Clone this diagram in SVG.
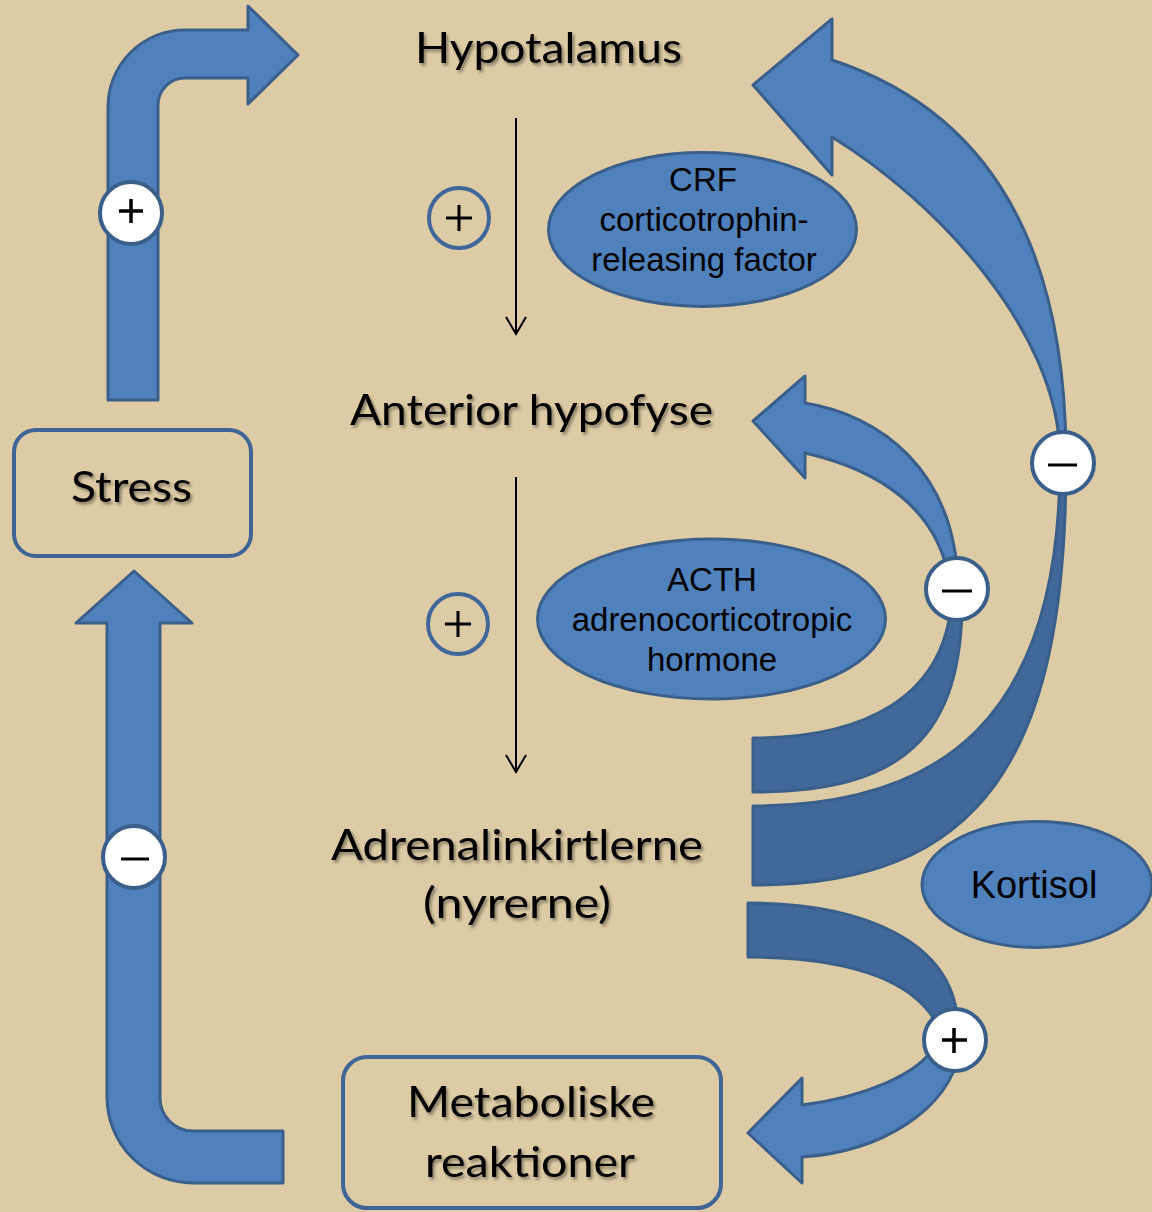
<svg xmlns="http://www.w3.org/2000/svg" width="1152" height="1212" viewBox="0 0 1152 1212">
<defs>
<style>
.bg{fill:#DCCBA4}
.blk{fill:#4F81BD;stroke:#3A5F8B;stroke-width:3;stroke-linejoin:round}
.dark{fill:#41689A;stroke:#3A5F8B;stroke-width:3;stroke-linejoin:round}
.box{fill:none;stroke:#3F6496;stroke-width:4}
.ell{fill:#4F81BD;stroke:#3A5F8B;stroke-width:3}
.sign{fill:#FFFFFF;stroke:#3A5F8B;stroke-width:4}
.osign{fill:none;stroke:#41679A;stroke-width:4}
.sym{stroke:#000;stroke-width:3.5;fill:none}
.thin{stroke:#000;stroke-width:2;fill:none}
.lbl{font-family:Lato,"Open Sans",sans-serif;font-size:43px;fill:#000}
.etx{font-family:"Liberation Sans",Arial,sans-serif;font-size:33px;fill:#000;text-anchor:middle}
</style>
<filter id="sh" x="-10%" y="-30%" width="120%" height="160%">
<feDropShadow dx="2" dy="2.5" stdDeviation="1.6" flood-color="#000" flood-opacity="0.4"/>
</filter>
</defs>
<rect class="bg" x="0" y="0" width="1152" height="1212"/>

<g id="connectors">
<!-- stress -> hypotalamus -->
<path class="blk" d="M108,400 L108,107 A77,77 0 0 1 185,30 L248,30 L248,6 L298,55 L248,104 L248,78 L185,78 A27,27 0 0 0 158,105 L158,400 Z"/>
<!-- metaboliske -> stress -->
<path class="blk" d="M134,571 L192,623 L160,623 L160,1098 A33,33 0 0 0 193,1131 L283,1131 L283,1183 L193,1183 A86,86 0 0 1 107,1097 L107,623 L76,623 Z"/>
<!-- large feedback to hypotalamus -->
<path class="dark" d="M753,806 C940,806 1060,720 1060,462 L1066,462 C1066,760 980,885 753,885 Z"/>
<path class="blk" d="M832,60 C978,108 1065,230 1066,455 L1060,455 C1058,330 935,200 832,137 L832,175 L753,85 L832,19 Z"/>
<!-- medium feedback to anterior hypofyse -->
<path class="dark" d="M753,738 C860,738 950,700 952,590 L962,590 C965,740 900,792 753,792 Z"/>
<path class="blk" d="M805,403 C880,415 955,470 958,585 L950,585 C940,510 880,470 805,453 L805,478 L753,421 L805,376 Z"/>
<!-- kortisol -> metaboliske -->
<path class="dark" d="M748,903 C860,903 958,940 958,1030 L940,1030 C920,985 860,957 748,957 Z"/>
<path class="blk" d="M802,1105 C860,1098 920,1075 935,1045 L960,1050 C950,1110 880,1152 802,1157 L802,1183 L748,1133 L802,1078 Z"/>
<!-- thin arrows -->
<path class="thin" d="M516,118 L516,334 M506,317 L516,334 L526,317"/>
<path class="thin" d="M516,477 L516,772 M506,755 L516,772 L526,755"/>
</g>

<g id="signs">
<g id="sign-stress-plus"><circle class="sign" cx="131" cy="213" r="31"/><path class="sym" d="M119,211 H143 M131,199 V223"/></g>
<g id="sign-metab-minus"><circle class="sign" cx="134" cy="857" r="31"/><path class="sym" d="M121,859 H149" style="stroke-width:3"/></g>
<g id="sign-hypo-minus"><circle class="sign" cx="1063" cy="463" r="31"/><path class="sym" d="M1048,465 H1077" style="stroke-width:3"/></g>
<g id="sign-ant-minus"><circle class="sign" cx="957" cy="589" r="31"/><path class="sym" d="M942,591 H972" style="stroke-width:3"/></g>
<g id="sign-kort-plus"><circle class="sign" cx="955" cy="1040" r="31"/><path class="sym" d="M942,1040 H967 M954,1028 V1053"/></g>
<g id="sign-crf-plus"><circle class="osign" cx="459" cy="218" r="30"/><path class="sym" d="M446,218 H472 M459,205 V231" style="stroke-width:3"/></g>
<g id="sign-acth-plus"><circle class="osign" cx="458" cy="624" r="30"/><path class="sym" d="M445,624 H471 M458,611 V637" style="stroke-width:3"/></g>
</g>

<g id="node-hypotalamus">
<text class="lbl" x="415" y="63" textLength="267" lengthAdjust="spacingAndGlyphs" filter="url(#sh)">Hypotalamus</text>
</g>
<g id="node-anterior">
<text class="lbl" x="350" y="425" textLength="363" lengthAdjust="spacingAndGlyphs" filter="url(#sh)">Anterior hypofyse</text>
</g>
<g id="node-adrenal">
<text class="lbl" x="331" y="860" textLength="372" lengthAdjust="spacingAndGlyphs" filter="url(#sh)">Adrenalinkirtlerne</text>
<text class="lbl" x="423" y="918" textLength="188" lengthAdjust="spacingAndGlyphs" filter="url(#sh)">(nyrerne)</text>
</g>
<g id="node-stress">
<rect class="box" x="14" y="430" width="237" height="126" rx="22"/>
<text class="lbl" x="71" y="502" textLength="121" lengthAdjust="spacingAndGlyphs" filter="url(#sh)">Stress</text>
</g>
<g id="node-metaboliske">
<rect class="box" x="343" y="1057" width="378" height="151" rx="24"/>
<text class="lbl" x="407" y="1117" textLength="248" lengthAdjust="spacingAndGlyphs" filter="url(#sh)">Metaboliske</text>
<text class="lbl" x="425" y="1177" textLength="210" lengthAdjust="spacingAndGlyphs" filter="url(#sh)">reaktioner</text>
</g>
<g id="node-crf">
<ellipse class="ell" cx="702.5" cy="229.5" rx="154" ry="77"/>
<text class="etx" x="703" y="191">CRF</text>
<text class="etx" x="704" y="231">corticotrophin-</text>
<text class="etx" x="704" y="271">releasing factor</text>
</g>
<g id="node-acth">
<ellipse class="ell" cx="711.5" cy="619" rx="174" ry="80"/>
<text class="etx" x="712" y="591">ACTH</text>
<text class="etx" x="712" y="631">adrenocorticotropic</text>
<text class="etx" x="712" y="671">hormone</text>
</g>
<g id="node-kortisol">
<ellipse class="ell" cx="1037" cy="884.5" rx="115" ry="63"/>
<text class="etx" x="1034" y="898" style="font-size:38px">Kortisol</text>
</g>
</svg>
